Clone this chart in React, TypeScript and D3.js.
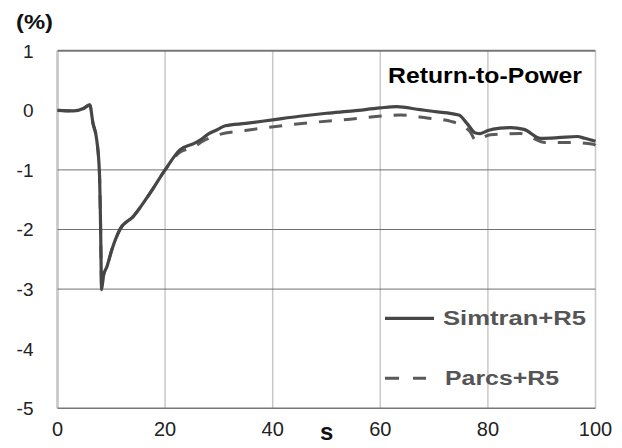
import * as d3 from "d3";

// Return-to-Power transient, Simtran+R5 vs Parcs+R5
const simtranTime = [0, 3, 4.8, 6, 6.6, 7.3, 7.8, 8.0, 8.2, 8.5, 9.2, 10.1, 11.6, 14.1, 17.2, 20, 22.8, 25.3, 26.5, 28, 29.6, 31.2, 35, 40, 45, 50, 55, 60, 63, 67.4, 70, 74.6, 76.1, 77.7, 78.6, 80, 82.3, 84.2, 86.7, 89.8, 93, 96.6, 98, 100];
const simtranValue = [0, -0.01, 0.03, 0.09, -0.22, -0.5, -1.06, -1.9, -3.01, -2.79, -2.62, -2.34, -2.0, -1.78, -1.39, -1.0, -0.66, -0.56, -0.5, -0.4, -0.33, -0.26, -0.22, -0.16, -0.1, -0.05, -0.01, 0.04, 0.06, 0.01, -0.02, -0.08, -0.22, -0.38, -0.39, -0.34, -0.3, -0.29, -0.32, -0.47, -0.46, -0.44, -0.47, -0.52];

const parcsTime = [0, 3, 4.8, 6, 6.6, 7.3, 7.8, 8.0, 8.2, 8.5, 9.2, 10.1, 11.6, 14.1, 17.2, 20, 22.8, 25.3, 27, 29.6, 34.9, 44.5, 54.4, 63.7, 68.7, 73.3, 76.7, 77.7, 80.5, 86, 90.7, 95.3, 99.6, 100];
const parcsValue = [0, -0.01, 0.03, 0.09, -0.22, -0.5, -1.06, -1.9, -3.01, -2.79, -2.62, -2.34, -2.0, -1.78, -1.39, -1.0, -0.7, -0.62, -0.52, -0.42, -0.34, -0.23, -0.15, -0.08, -0.13, -0.19, -0.36, -0.5, -0.41, -0.39, -0.54, -0.54, -0.57, -0.59];

const xTicks = [0, 20, 40, 60, 80, 100];
const yTicks = [1, 0, -1, -2, -3, -4, -5];
const yGrid = [-1, -2, -3];

const seriesNames = ["Simtran+R5", "Parcs+R5"];

export default function App() {
  const width = 622;
  const height = 448;

  const x = d3.scaleLinear().domain([0, 100]).range([57.5, 595.5]);
  const y = d3.scaleLinear().domain([-5, 1]).range([408.3, 50.7]);

  const line = d3
    .line<[number, number]>()
    .x(d => x(d[0]))
    .y(d => y(d[1]))
    .curve(d3.curveMonotoneX);

  const simtran = simtranTime.map((t, i) => [t, simtranValue[i]] as [number, number]);
  const parcs = parcsTime.map((t, i) => [t, parcsValue[i]] as [number, number]);

  const font = "Liberation Sans, Arial, sans-serif";

  return (
    <svg
      width={width}
      height={height}
      style={{ position: "absolute", left: 0, top: 0, background: "#fff" }}
      fontFamily={font}
    >
      {/* vertical grid */}
      {xTicks.slice(1).map(t => (
        <line key={"vx" + t} x1={x(t)} x2={x(t)} y1={y(1)} y2={y(-5)} stroke="#c8c8c8" strokeWidth={1.5} />
      ))}
      {/* left axis */}
      <line x1={x(0)} x2={x(0)} y1={y(1)} y2={y(-5)} stroke="#c8c8c8" strokeWidth={2.7} />
      {/* horizontal grid */}
      {yGrid.map(t => (
        <line key={"hy" + t} x1={x(0)} x2={x(100)} y1={y(t)} y2={y(t)} stroke="#707070" strokeWidth={1} />
      ))}
      <line x1={x(0)} x2={x(100)} y1={y(1)} y2={y(1)} stroke="#777" strokeWidth={2} />
      <line x1={x(0)} x2={x(100)} y1={y(-5)} y2={y(-5)} stroke="#777" strokeWidth={1.5} />

      {/* series */}
      <path d={line(parcs) ?? ""} fill="none" stroke="#5a5a5a" strokeWidth={3} strokeDasharray="13 12" />
      <path d={line(simtran) ?? ""} fill="none" stroke="#464646" strokeWidth={3.2} />

      {/* y tick labels */}
      {yTicks.map(t => (
        <text key={"yl" + t} x={33.5} y={y(t)} dy="0.36em" textAnchor="end" fontSize={19} fill="#222">
          {t}
        </text>
      ))}
      {/* x tick labels */}
      {xTicks.map(t => (
        <text key={"xl" + t} x={x(t)} y={435.5} textAnchor="middle" fontSize={20} fill="#222">
          {t}
        </text>
      ))}

      <text x={16} y={29} fontSize={19.5} fontWeight="bold" fill="#111" textLength={37} lengthAdjust="spacingAndGlyphs">
        (%)
      </text>
      <text x={326.7} y={440} textAnchor="middle" fontSize={24} fontWeight="bold" fill="#111">
        s
      </text>

      <text x={388} y={83} fontSize={22.5} fontWeight="bold" fill="#000" textLength={194} lengthAdjust="spacingAndGlyphs">
        Return-to-Power
      </text>

      {/* legend */}
      <line x1={385} x2={434} y1={318.3} y2={318.3} stroke="#464646" strokeWidth={3.2} />
      <text x={443} y={325} fontSize={20} fontWeight="bold" fill="#555" textLength={143} lengthAdjust="spacingAndGlyphs">
        {seriesNames[0]}
      </text>
      <line x1={385} x2={426} y1={378.3} y2={378.3} stroke="#5a5a5a" strokeWidth={3} strokeDasharray="14 14" />
      <text x={445} y={385} fontSize={20} fontWeight="bold" fill="#555" textLength={114} lengthAdjust="spacingAndGlyphs">
        {seriesNames[1]}
      </text>
    </svg>
  );
}
